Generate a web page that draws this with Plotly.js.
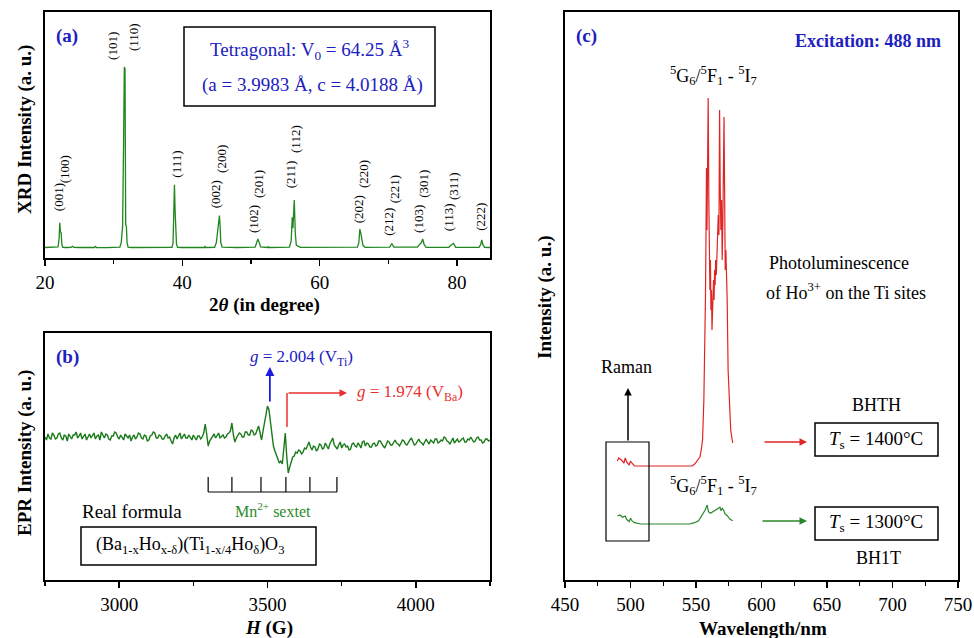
<!DOCTYPE html>
<html><head><meta charset="utf-8">
<script src="https://cdn.plot.ly/plotly-3.0.1.min.js"></script>
<style>body{margin:0;background:#fff}</style>
</head><body>
<div id="chart" style="width:974px;height:638px"></div>
<script>
// ---- (a) XRD ----
const xrd_2theta = [20.0,21.0,21.5,21.9,22.05,22.15,22.25,22.35,22.45,22.6,23.0,23.8,24.0,24.2,25,27.2,27.35,27.5,29,
  30.9,31.1,31.2,31.3,31.45,31.55,31.65,31.75,31.85,31.95,32.1,32.5,35,
  38.5,38.65,38.75,38.85,38.95,39.05,39.15,39.3,40,43.2,43.3,43.4,
  44.7,44.95,45.1,45.25,45.4,45.5,45.6,45.8,48,
  50.6,50.8,51.0,51.2,51.4,52.4,52.5,52.6,
  55.6,55.85,56.0,56.1,56.2,56.3,56.45,56.6,57.2,62,
  65.5,65.7,65.85,66.0,66.15,66.3,66.6,69,70.2,70.5,70.8,
  74.2,74.5,74.8,75.0,75.2,75.5,78.8,79.1,79.3,79.5,79.8,
  83.2,83.45,83.6,83.75,84.0,84.8];
const xrd_int = [0.3,0.4,0.3,0.6,5,14,9,8.5,2,0.4,0.3,0.4,1.0,0.4,0.3,0.3,0.9,0.3,0.2,
  0.5,3,10,12,60,100,99,13,12,3,0.5,0.3,0.2,
  0.4,3,14,35,20,6,2,0.4,0.3,0.3,0.8,0.3,
  0.4,3,9,12,18,12,3,0.5,0.3,
  0.5,2.5,5,3,0.6,0.3,0.7,0.3,
  0.5,4,17,11,20,26.5,8,1.5,0.4,0.3,
  0.5,3,10.5,8,5,1.5,0.4,0.3,0.5,2.5,0.5,
  0.5,2,3,5,2,0.4,0.4,1.5,2,2.5,0.4,
  0.4,2,4.5,2,0.4,0.3];
const hkl_labels = ['(001)','(100)','(101)','(110)','(111)','(002)','(200)','(102)','(201)','(211)','(112)',
  '(202)','(220)','(212)','(221)','(103)','(301)','(113)','(311)','(222)'];

// ---- (b) EPR (field from 2750 G in 5 G steps) ----
const epr_field_start = 2750, epr_field_step = 5;
const epr_signal = [
  0,-3,3,-1,-2,4,2,-2,-1,3,4,-1,-3,2,1,-4,3,0,-2,2,
  2,5,-1,1,4,-2,0,3,-3,1,3,-1,1,4,-2,1,2,-3,5,1,
  -1,3,2,-2,-3,1,1,5,4,0,-2,2,0,-3,3,1,-1,2,-4,0,
  2,-2,0,4,3,-1,-2,2,1,-4,-3,1,2,5,4,-1,-1,2,1,-2,
  -2,1,3,-1,0,-4,-7,-1,2,-2,1,4,-2,0,3,-1,-1,2,0,-3,
  2,-1,-3,1,1,-2,0,4,13,3,-9,-4,-2,1,3,-1,1,4,-1,1,
  2,-1,0,3,4,6,14,2,-5,-1,1,4,3,0,0,5,5,2,2,7,
  6,2,3,8,11,4,-3,6,14,20,31,27,15,0,-9,-14,-19,-22,-26,-24,
  -27,-12,4,-20,-36,-30,-24,-20,-19,-15,-16,-13,-14,-17,-15,-11,-12,-9,-5,-10,
  -13,-9,-10,-14,-12,-7,-8,-12,-11,-6,-9,-12,-7,-3,-1,-8,-10,-12,-8,-5,
  -11,-8,-7,-10,-9,-13,-12,-7,-6,-9,-10,-6,-8,-11,-5,-4,-9,-6,-7,-10,
  -10,-7,-6,-9,-8,-4,-4,-7,-9,-11,-7,-4,-5,-8,-8,-5,-3,-6,-7,-9,
  -6,-3,-4,-7,-8,-5,-3,-1,-5,-8,-7,-4,-2,-5,-6,-8,-4,-2,-5,-7,
  -3,-5,-6,-2,-2,-6,-5,-3,-4,0,-1,-4,-5,-7,-3,-1,-6,-4,-2,-5,
  -4,-2,-1,-5,-5,-2,-3,0,-2,-5,-4,-1,0,-3,-3,-6,-5,-2,-2,-4,
  -3];
const mn_sextet_G = [3300,3380,3478,3562,3643,3734];

// ---- (c) PL ----
const bhth_wl = [490,491,493,495,496,497,499,500,501,503,508,547,549,551,553,554,555,556,556.8,557.2,557.6,558,558.4,558.8,559.3,559.8,
  560.2,560.6,561,561.4,561.8,562.2,562.6,563,563.4,563.8,564.2,564.6,565,565.5,566,566.5,567,567.5,568,568.5,569,569.5,570,570.5,571,571.4,571.9,572.3,572.8,573.3,573.8,574.5,575.5,576.5,578];
const bhth_int = [119,122,120,117,122,118,115,119,117,114,114,114,116,120,123,130,140,180,230,280,340,412,350,440,482,380,
  347,290,320,270,290,250,280,270,300,280,310,295,320,305,330,340,365,345,470,390,350,380,320,360,420,463,380,310,330,305,280,210,170,150,137];
const bh1t_wl = [490,492,494,496,497,499,500,501,503,508,545,549,552,555,557,558.5,559.5,561,563,565,567,568.3,569,570,571,572,574,576,578];
const bh1t_int = [64,65,62.7,64,60.7,58.3,61.7,59.3,57.3,56,56,57.3,59.3,65,70,75,68.3,66.7,68.3,70,71.7,72.7,69.3,71.7,70,66.7,64,60.7,59.3];

const W = 974, H = 638;
const PX = x => x / W, PY = y => 1 - y / H;
const FONT = '"Liberation Serif", serif';
const BLUE = '#2020c0', RED = '#e02525', GREEN = '#1f861f';

const traces = [
  {x: xrd_2theta, y: xrd_int, xaxis: 'x', yaxis: 'y', mode: 'lines', line: {color: GREEN, width: 1.3}},
  {x0: epr_field_start, dx: epr_field_step, y: epr_signal, xaxis: 'x2', yaxis: 'y2', mode: 'lines', line: {color: '#1a7a1a', width: 1.4}},
  {x: bhth_wl, y: bhth_int, xaxis: 'x3', yaxis: 'y3', mode: 'lines', line: {color: RED, width: 1.2}},
  {x: bh1t_wl, y: bh1t_int, xaxis: 'x3', yaxis: 'y3', mode: 'lines', line: {color: '#2a862a', width: 1.2}}
];

function xax(domain, range, dtick, minor, tick0, anchor) {
  return {domain, range, anchor, showline: true, linewidth: 2, linecolor: 'black', mirror: true,
    ticks: 'outside', ticklen: 6, tickwidth: 1.5, tickcolor: 'black', tick0, dtick,
    minor: {ticks: 'outside', ticklen: 4, tickwidth: 1.2, tickcolor: 'black', dtick: minor},
    showgrid: false, zeroline: false, tickfont: {size: 19, family: FONT, color: 'black'}};
}
function yax(domain, range, anchor) {
  return {domain, range, anchor, showline: true, linewidth: 2, linecolor: 'black', mirror: true,
    ticks: '', showticklabels: false, showgrid: false, zeroline: false};
}

const ann = [];
function txt(text, x, y, o) {
  ann.push(Object.assign({text, x: PX(x), y: PY(y), xref: 'paper', yref: 'paper', showarrow: false,
    xanchor: 'center', yanchor: 'middle', font: {family: FONT, size: 18, color: 'black'}}, o || {}));
}
function arrow(x, y, ax, ay, color, o) {
  ann.push(Object.assign({text: '', x: PX(x), y: PY(y), xref: 'paper', yref: 'paper', ax, ay, showarrow: true,
    arrowhead: 2, arrowsize: 1, arrowwidth: 1.5, arrowcolor: color, standoff: 0}, o || {}));
}

// (a) hkl labels (data coords)
const hkl_at = [[21.9,19.3],[22.8,34.8],[29.9,102.8],[32.8,107.7],[39.1,37.6],[44.8,21],[45.6,40.3],[50.3,7.2],[51.0,26.5],
  [55.7,32],[56.4,51.4],[65.6,12.7],[66.3,32],[69.9,5.5],[71.0,23.8],[74.3,7.2],[75.0,26.5],[78.7,8.3],[79.4,25.4],[83.3,8.3]];
hkl_labels.forEach((t, i) => ann.push({text: t, x: hkl_at[i][0], y: hkl_at[i][1], xref: 'x', yref: 'y', showarrow: false,
  textangle: -90, xanchor: 'center', yanchor: 'bottom', font: {family: FONT, size: 13, color: 'black'}}));

txt('<b>(a)</b>', 67, 36, {font: {family: FONT, size: 19, color: BLUE}});
txt('Tetragonal: V<sub>0</sub> = 64.25 Å<sup>3</sup>', 309, 50, {font: {family: FONT, size: 19, color: BLUE}});
txt('(a = 3.9983 Å, c = 4.0188 Å)', 312, 85, {font: {family: FONT, size: 19, color: BLUE}});
txt('<b>XRD Intensity (a. u.)</b>', 25, 130, {textangle: -90, font: {family: FONT, size: 19, color: 'black'}});
txt('<b>2<i>θ</i> (in degree)</b>', 264, 305, {font: {family: FONT, size: 19, color: 'black'}});

// (b)
txt('<b>(b)</b>', 67, 357, {font: {family: FONT, size: 19, color: BLUE}});
txt('<i>g</i> = 2.004 (V<sub>Ti</sub>)', 301, 358, {font: {family: FONT, size: 17, color: BLUE}});
txt('<i>g</i> = 1.974 (V<sub>Ba</sub>)', 355, 393, {xanchor: 'left', font: {family: FONT, size: 17, color: '#e83030'}});
txt('Mn<sup>2+</sup> sextet', 273, 510, {font: {family: FONT, size: 16, color: '#2a8a2a'}});
txt('Real formula', 80, 511, {xanchor: 'left', font: {family: FONT, size: 19, color: 'black'}});
txt('(Ba<sub>1-x</sub>Ho<sub>x-δ</sub>)(Ti<sub>1-x/4</sub>Ho<sub>δ</sub>)O<sub>3</sub>', 190, 545, {font: {family: FONT, size: 18, color: 'black'}});
txt('<b>EPR Intensity (a. u.)</b>', 25, 453, {textangle: -90, font: {family: FONT, size: 19, color: 'black'}});
txt('<b><i>H</i> (G)</b>', 269, 628, {font: {family: FONT, size: 19, color: 'black'}});
ann.push({text: '', x: 3508, y: PY(367), xref: 'x2', yref: 'paper', ax: 0, ay: 36, showarrow: true,
  arrowhead: 2, arrowsize: 1, arrowwidth: 1.8, arrowcolor: '#1c1ce0', standoff: 0});
ann.push({text: '', x: 3768, y: PY(393), xref: 'x2', yref: 'paper', ax: -60, ay: 0, showarrow: true,
  arrowhead: 2, arrowsize: 1, arrowwidth: 1.5, arrowcolor: '#e83030', standoff: 0});

// (c)
txt('<b>(c)</b>', 586, 36, {font: {family: FONT, size: 19, color: BLUE}});
txt('<b>Excitation: 488 nm</b>', 943, 41, {xanchor: 'right', font: {family: FONT, size: 18, color: BLUE}});
txt('<sup>5</sup>G<sub>6</sub>/<sup>5</sup>F<sub>1</sub> - <sup>5</sup>I<sub>7</sub>', 713, 75, {font: {family: FONT, size: 18, color: 'black'}});
txt('Photoluminescence', 839, 263, {font: {family: FONT, size: 18, color: 'black'}});
txt('of Ho<sup>3+</sup> on the Ti sites', 846, 292, {font: {family: FONT, size: 18, color: 'black'}});
txt('Raman', 626, 367, {font: {family: FONT, size: 18, color: 'black'}});
txt('<sup>5</sup>G<sub>6</sub>/<sup>5</sup>F<sub>1</sub> - <sup>5</sup>I<sub>7</sub>', 713, 485, {font: {family: FONT, size: 18, color: 'black'}});
txt('BHTH', 876, 405, {font: {family: FONT, size: 18, color: 'black'}});
txt('<i>T</i><sub>s</sub> = 1400°C', 876, 440, {font: {family: FONT, size: 19, color: 'black'}});
txt('<i>T</i><sub>s</sub> = 1300°C', 876, 523, {font: {family: FONT, size: 19, color: 'black'}});
txt('BH1T', 878, 558, {font: {family: FONT, size: 18, color: 'black'}});
txt('<b>Intensity (a. u.)</b>', 545, 297, {textangle: -90, font: {family: FONT, size: 19, color: 'black'}});
txt('<b>Wavelength/nm</b>', 763, 628, {font: {family: FONT, size: 19, color: 'black'}});
arrow(628, 388, 0, 54, 'black');
arrow(807, 442, -44, 0, RED);
arrow(807, 521, -46, 0, '#2a862a');

const shapes = [];
function rect(x0, y0, x1, y1, w) {
  shapes.push({type: 'rect', xref: 'paper', yref: 'paper', x0: PX(x0), x1: PX(x1), y0: PY(y1), y1: PY(y0),
    line: {color: 'black', width: w || 1.5}, fillcolor: 'rgba(0,0,0,0)'});
}
function line(x0, y0, x1, y1, color, w) {
  shapes.push({type: 'line', xref: 'paper', yref: 'paper', x0: PX(x0), x1: PX(x1), y0: PY(y0), y1: PY(y1),
    line: {color: color, width: w || 1.5}});
}
rect(184, 27, 435, 106, 1.5);
rect(81, 527, 316, 565, 1.5);
rect(606, 442, 649, 541, 1.2);
rect(815, 423, 938, 456, 1.5);
rect(815, 507, 938, 540, 1.5);
line(287, 427, 287, 393, '#e83030', 1.5);
// Mn2+ sextet comb
shapes.push({type: 'line', xref: 'x2', yref: 'paper', x0: mn_sextet_G[0], x1: mn_sextet_G[mn_sextet_G.length - 1],
  y0: PY(492), y1: PY(492), line: {color: 'black', width: 1.2}});
mn_sextet_G.forEach(g => shapes.push({type: 'line', xref: 'x2', yref: 'paper', x0: g, x1: g,
  y0: PY(492), y1: PY(477), line: {color: 'black', width: 1.2}}));

const layout = {
  width: W, height: H, margin: {l: 0, r: 0, t: 0, b: 0}, showlegend: false,
  paper_bgcolor: 'white', plot_bgcolor: 'white',
  font: {family: FONT, color: 'black', size: 18},
  xaxis: xax([PX(45), PX(490)], [20, 84.8], 20, 10, 20, 'y'),
  yaxis: yax([PY(258), PY(12)], [-5.5, 130.4], 'x'),
  xaxis2: xax([PX(45), PX(490)], [2750, 4250], 500, 250, 3000, 'y2'),
  yaxis2: yax([PY(580), PY(333)], [-143, 104], 'x2'),
  xaxis3: xax([PX(565), PX(958)], [450, 750], 50, 25, 450, 'y3'),
  yaxis3: yax([PY(580), PY(12)], [0, 568], 'x3'),
  annotations: ann, shapes: shapes
};
Plotly.newPlot('chart', traces, layout, {displayModeBar: false, staticPlot: true});
</script>
</body></html>
